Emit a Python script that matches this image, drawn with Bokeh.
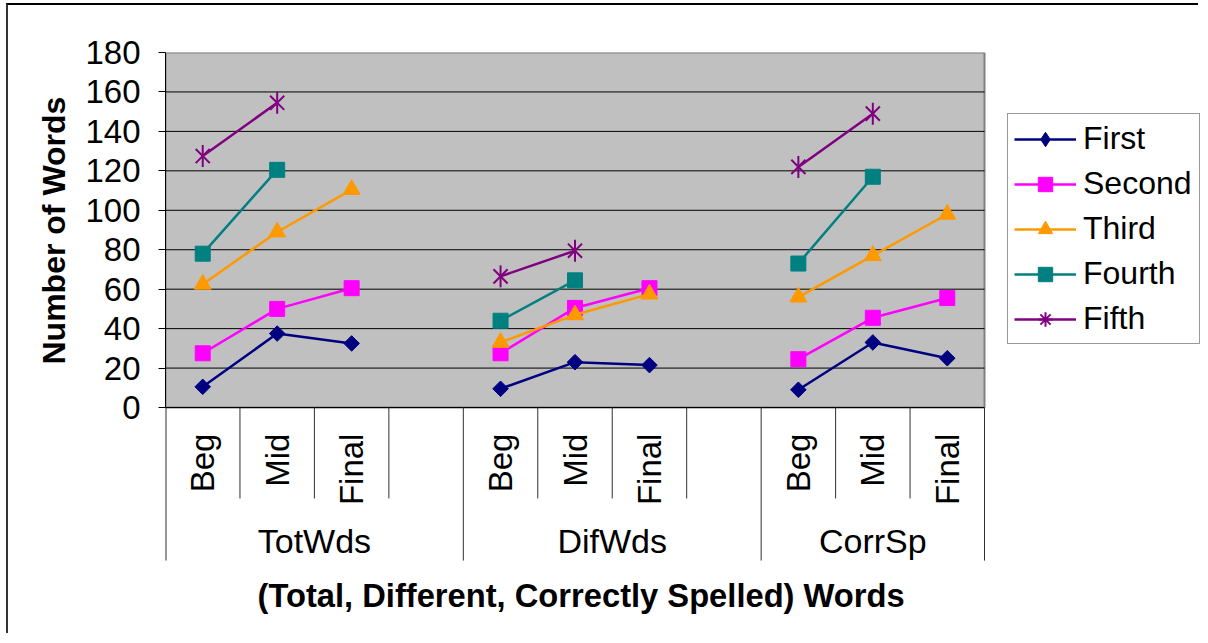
import math
from bokeh.plotting import figure
from bokeh.models import Range1d, FixedTicker, Legend, LegendItem, ColumnDataSource, Title
from bokeh.core.properties import value
from bokeh.embed import file_html
from bokeh.resources import INLINE

# ---------------- data ----------------
groups = ["TotWds", "DifWds", "CorrSp"]
stages = ["Beg", "Mid", "Final"]
spacer_after = [True, True, False]          # Excel leaves an empty category after a group
series_names = ["First", "Second", "Third", "Fourth", "Fifth"]
nan = float("nan")
first = [10.5, 37.5, 32.5, 9.5, 23, 21.5, 9, 33, 25]
second = [27.5, 50, 60.5, 27.5, 50.5, 60.5, 24.5, 45.5, 55.5]
third = [62.5, 89, 110.5, 33, 47, 57.5, 56, 77, 98]
fourth = [78, 120.5, nan, 44, 64.5, nan, 73, 117, nan]
fifth = [127.5, 154.5, nan, 66.5, 79.5, nan, 122, 149, nan]
y_ticks = [0, 20, 40, 60, 80, 100, 120, 140, 160, 180]
x_title = "(Total,  Different, Correctly Spelled) Words"
y_title = "Number of Words"

# ---------------- styles ----------------
FONT = "Liberation Sans"
colors = ["#000080", "#FF00FF", "#FF9900", "#008080", "#800080"]
Y_BOTTOM = -80.6          # room under the value axis for the category labels
SHORT_SEP, LONG_SEP = -46.1, -77.6
STAGE_Y, GROUP_Y = -13.2, -67.9
X_EXTRA = 2.901           # empty room right of the categories (holds the legend)

# category slots: (group, stage) and an unlabeled slot after the first two groups
slots = []
for g, sp in zip(groups, spacer_after):
    for s in stages:
        slots.append((g, s))
    if sp:
        slots.append((g, ""))
n = len(slots)
slot_x = [i + 0.5 for i in range(n)]


def expand(vals):
    out, i = [], 0
    for g, sp in zip(groups, spacer_after):
        for _ in stages:
            out.append(vals[i])
            i += 1
        if sp:
            out.append(nan)
    return out


p = figure(width=1192, height=630,
           x_range=Range1d(0, n + X_EXTRA),
           y_range=Range1d(Y_BOTTOM, y_ticks[-1]),
           x_axis_location=None,
           output_backend="svg", toolbar_location=None,
           min_border_left=157, min_border_right=0, min_border_top=47, min_border_bottom=69)
p.styles = {"margin-left": "6px", "margin-top": "3px",
            "border-left": "2px solid #333333", "border-top": "2px solid #000000"}
p.outline_line_color = None
p.background_fill_color = "white"
p.border_fill_color = "white"
p.xgrid.visible = False
p.ygrid.visible = False

# grey plot area
p.quad(left=0, right=n, bottom=y_ticks[0], top=y_ticks[-1], fill_color="#C0C0C0",
       line_color="#808080", line_width=2)
# horizontal gridlines (only across the plot area)
gl = y_ticks[:-1]
p.segment(x0=[0] * len(gl), y0=gl, x1=[n] * len(gl), y1=gl, line_color="black", line_width=1)

yax = p.yaxis[0]
yax.ticker = FixedTicker(ticks=y_ticks)
yax.bounds = (y_ticks[0], y_ticks[-1])
yax.axis_line_color = "black"
yax.major_tick_in = 0
yax.major_tick_out = 7
yax.minor_tick_line_color = None
yax.major_label_standoff = 18
yax.major_label_text_font = FONT
yax.major_label_text_font_size = "33px"
yax.major_label_text_color = "black"

p.add_layout(Title(text=y_title, align="left", offset=202, standoff=21, text_font=FONT,
                   text_font_style="bold", text_font_size="32px", text_color="black"), "left")
p.add_layout(Title(text=x_title, align="left", offset=92, standoff=17, text_font=FONT,
                   text_font_style="bold", text_font_size="32.7px", text_color="black"), "below")

# category separators
bounds = list(range(n + 1))
long_b = set([0, n])
for i in range(1, n):
    if slots[i][0] != slots[i - 1][0]:
        long_b.add(i)
p.segment(x0=bounds, y0=[0] * len(bounds), x1=bounds,
          y1=[LONG_SEP if b in long_b else SHORT_SEP for b in bounds],
          line_color="#303030", line_width=[2 if b == 0 else 1 for b in bounds])

# stage labels (rotated)
st_x = [x for x, (g, s) in zip(slot_x, slots) if s]
st_t = [s for g, s in slots if s]
p.text(x=st_x, y=[STAGE_Y] * len(st_x), text=st_t, angle=math.pi / 2,
       text_align="right", text_baseline="middle", text_font=value(FONT),
       text_font_size="33px", text_color="black")

# group labels
gx = []
for g in groups:
    idx = [i for i, (gg, _) in enumerate(slots) if gg == g]
    gx.append((min(idx) + max(idx) + 1) / 2)
p.text(x=gx, y=[GROUP_Y] * len(gx), text=groups, text_align="center", text_baseline="middle",
       text_font=value(FONT), text_font_size="34px", text_color="black")

# series
items = []
all_vals = [first, second, third, fourth, fifth]
for name, vals, col in zip(series_names, all_vals, colors):
    src = ColumnDataSource(dict(x=slot_x, y=expand(vals)))
    proxy = ColumnDataSource(dict(x=[slot_x[0]], y=[nan]))   # legend-only glyph, never drawn
    rl = p.line("x", "y", source=src, line_color=col, line_width=2.5)
    if name == "First":
        p.scatter("x", "y", source=src, marker="square", size=11, angle=math.pi / 4,
                  fill_color=col, line_color=col)
        leg = [p.scatter("x", "y", source=proxy, marker="diamond", size=15,
                         fill_color=col, line_color=col)]
    elif name == "Third":
        leg = [p.scatter("x", "y", source=src, marker="triangle", size=17,
                         fill_color=col, line_color=col)]
    elif name == "Fifth":
        p.scatter("x", "y", source=src, marker="x", size=20, line_color=col, line_width=2)
        p.scatter("x", "y", source=src, marker="dash", size=22, angle=math.pi / 2,
                  line_color=col, line_width=2)
        leg = [p.scatter("x", "y", source=proxy, marker="asterisk", size=17,
                         line_color=col, line_width=2)]
    else:
        leg = [p.scatter("x", "y", source=src, marker="square", size=15,
                         fill_color=col, line_color=col)]
    items.append(LegendItem(label=name, renderers=[rl] + leg))

legend = Legend(items=items, location=(842, 222), label_text_font=FONT,
                label_text_font_size="32px", label_text_color="black",
                glyph_width=62, glyph_height=36, spacing=8, padding=6, margin=0,
                label_standoff=7, label_width=110,
                border_line_color="#333333", border_line_width=1,
                background_fill_color="white", background_fill_alpha=1.0)
p.add_layout(legend, "center")

open("out.html", "w").write(file_html(p, INLINE))
